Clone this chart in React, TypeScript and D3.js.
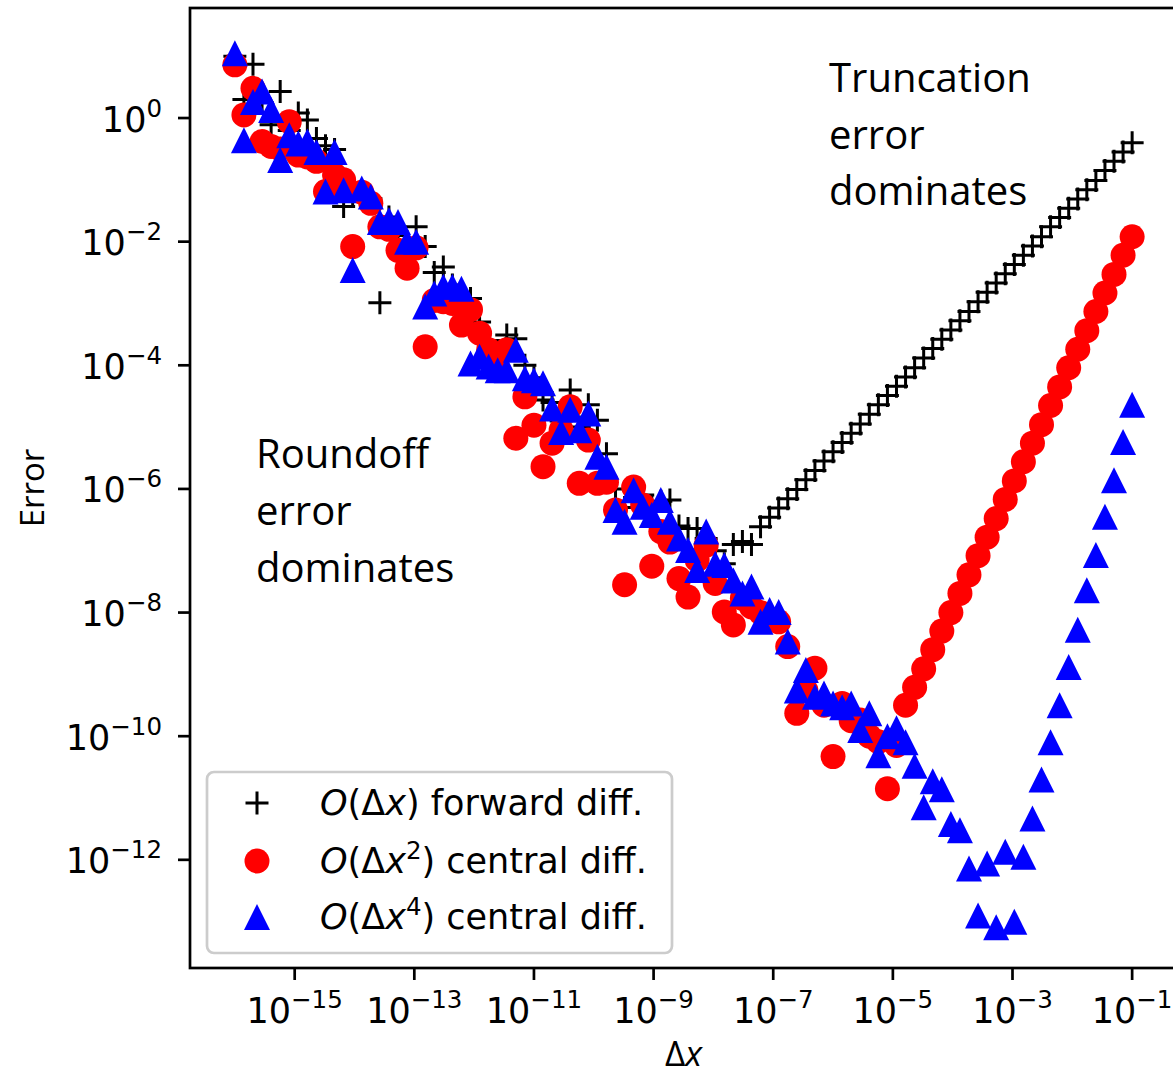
import * as React from 'react';
import {useEffect, useRef} from 'react';
import * as d3 from 'd3';

// step sizes: 100 log-spaced values between 1e-16 and 1e-1 (exponents)
const dxExp = d3.range(100).map((i) => -16 + (i * 15) / 99);

// log10 of the error
const fwdErrExp = [
  1.0, 0.3, 0.87, 0.25, -0.11, 0.43, -0.2, 0.08, -0.03, -0.33,
  -0.45, -0.51, -1.43, -1.25, -1.2, -1.3, -2.99, -1.6, -1.9, -2.0,
  -1.76, -2.08, -2.5, -2.41, -2.7, -3.0, -2.92, -3.3, -3.6, -3.9,
  -3.51, -3.57, -4.0, -4.2, -4.56, -4.6, -4.9, -4.4, -5.0, -4.64,
  -4.89, -5.43, -6.0, -6.3, -6.0, -6.1, -6.3, -6.2, -6.18, -6.6,
  -6.64, -6.64, -6.8, -7.0, -7.21, -6.9, -6.85, -6.9, -6.61, -6.46,
  -6.31, -6.16, -6.01, -5.85, -5.7, -5.55, -5.4, -5.25, -5.1, -4.95,
  -4.79, -4.64, -4.49, -4.34, -4.19, -4.04, -3.88, -3.73, -3.58, -3.43,
  -3.28, -3.13, -2.97, -2.82, -2.67, -2.52, -2.37, -2.22, -2.07, -1.92,
  -1.76, -1.61, -1.46, -1.31, -1.16, -1.01, -0.85, -0.7, -0.55, -0.4,
];

const cen2ErrExp = [
  0.86, 0.05, 0.48, -0.38, -0.46, -0.5, -0.06, -0.6, -0.63, -0.7,
  -1.19, -0.92, -1.0, -2.08, -1.2, -1.38, -1.76, -1.8, -2.14, -2.43,
  -2.1, -3.7, -2.95, -2.97, -3.0, -3.35, -3.1, -3.48, -3.75, -3.85,
  -3.75, -5.18, -4.51, -4.97, -5.64, -5.26, -5.05, -4.67, -5.91, -5.21,
  -5.91, -5.89, -6.34, -7.55, -5.97, -6.26, -7.25, -6.69, -6.86, -7.45,
  -7.75, -7.15, -6.91, -7.53, -7.99, -8.2, -7.77, -7.91, -8.0, -8.1,
  -8.15, -8.55, -9.63, -9.26, -8.9, -9.5, -10.33, -9.47, -9.75, -9.74,
  -10.0, -10.09, -10.85, -10.15, -9.5, -9.21, -8.91, -8.6, -8.3, -8.0,
  -7.69, -7.39, -7.08, -6.78, -6.48, -6.17, -5.87, -5.56, -5.26, -4.96,
  -4.65, -4.35, -4.04, -3.74, -3.44, -3.13, -2.83, -2.53, -2.22, -1.92,
];

const cen4ErrExp = [
  1.05, -0.36, 0.26, 0.43, 0.13, -0.68, -0.28, -0.41, -0.38, -0.55,
  -1.19, -0.55, -1.17, -2.46, -1.14, -1.27, -1.68, -1.65, -1.68, -2.0,
  -2.0, -3.05, -2.84, -2.73, -2.73, -2.76, -3.97, -3.86, -4.02, -4.08,
  -4.08, -3.75, -4.21, -4.24, -4.29, -4.7, -5.08, -4.72, -5.05, -4.78,
  -5.48, -5.64, -6.34, -6.53, -6.02, -6.29, -6.42, -6.18, -6.53, -6.8,
  -6.99, -7.31, -6.69, -7.21, -7.23, -7.48, -7.69, -7.58, -8.15, -7.96,
  -7.99, -8.47, -9.26, -8.93, -9.36, -9.31, -9.47, -9.53, -9.47, -9.9,
  -9.63, -10.31, -10.0, -9.87, -10.1, -10.48, -11.15, -10.73, -10.86, -11.42,
  -11.52, -12.14, -12.9, -12.06, -13.09, -11.87, -13.0, -11.95, -11.33, -10.7,
  -10.1, -9.5, -8.88, -8.28, -7.64, -7.07, -6.45, -5.86, -5.24, -4.64,
];

const xTickExps = [-15, -13, -11, -9, -7, -5, -3, -1];
const yTickExps = [0, -2, -4, -6, -8, -10, -12];

const truncLines = ['Truncation', 'error', 'dominates'];
const roundLines = ['Roundoff', 'error', 'dominates'];

const W = 1173;
const H = 1075;
const margin = {left: 190, top: 8, right: 1177, bottom: 968};

const App = () => {
  const svgRef = useRef(null);

  useEffect(() => {
    const svg = d3.select(svgRef.current);
    svg.selectAll('*').remove();

    const xScale = d3.scaleLog()
      .domain([Math.pow(10, -16.75), Math.pow(10, -0.25)])
      .range([margin.left, margin.right]);
    const yScale = d3.scaleLog()
      .domain([Math.pow(10, 1.78), Math.pow(10, -13.75)])
      .range([margin.top, margin.bottom]);

    svg.append('clipPath').attr('id', 'plotclip')
      .append('rect')
      .attr('x', margin.left).attr('y', margin.top)
      .attr('width', margin.right - margin.left)
      .attr('height', margin.bottom - margin.top);

    const plot = svg.append('g').attr('clip-path', 'url(#plotclip)');

    const toPts = (ys) => ys.map((e, i) => ({x: xScale(Math.pow(10, dxExp[i])), y: yScale(Math.pow(10, e))}));

    const plusSize = 23;
    const circR = 12.5;
    const tri = 26;
    const triPath = `M0,${-tri / 2}L${tri / 2},${tri / 2}L${-tri / 2},${tri / 2}Z`;

    // forward diff (+)
    const fwd = plot.append('g');
    toPts(fwdErrExp).forEach((p) => {
      fwd.append('path')
        .attr('d', `M${p.x - plusSize / 2},${p.y}H${p.x + plusSize / 2}M${p.x},${p.y - plusSize / 2}V${p.y + plusSize / 2}`)
        .attr('stroke', '#000')
        .attr('stroke-width', 3)
        .attr('fill', 'none');
    });

    // central diff O(dx^2)
    plot.append('g').selectAll('circle')
      .data(toPts(cen2ErrExp))
      .enter()
      .append('circle')
      .attr('cx', (d) => d.x)
      .attr('cy', (d) => d.y)
      .attr('r', circR)
      .attr('fill', '#ff0000');

    // central diff O(dx^4)
    plot.append('g').selectAll('path')
      .data(toPts(cen4ErrExp))
      .enter()
      .append('path')
      .attr('transform', (d) => `translate(${d.x},${d.y})`)
      .attr('d', triPath)
      .attr('fill', '#0000ff');

    // annotations
    const ann = svg.append('g')
      .style('font-family', '"Open Sans", sans-serif')
      .style('font-size', '40px')
      .attr('fill', '#000');
    truncLines.forEach((t, i) => {
      ann.append('text').attr('x', 829).attr('y', 92 + i * 56.5).text(t);
    });
    roundLines.forEach((t, i) => {
      ann.append('text').attr('x', 256).attr('y', 468 + i * 57).text(t);
    });

    // spines
    svg.append('rect')
      .attr('x', margin.left).attr('y', margin.top)
      .attr('width', margin.right - margin.left)
      .attr('height', margin.bottom - margin.top)
      .attr('fill', 'none')
      .attr('stroke', '#000')
      .attr('stroke-width', 2.7);

    const tickFont = '"DejaVu Sans", sans-serif';
    const labelFont = '"Open Sans", sans-serif';

    // x ticks
    const xt = svg.append('g');
    xTickExps.forEach((e) => {
      const x = xScale(Math.pow(10, e));
      xt.append('line')
        .attr('x1', x).attr('x2', x)
        .attr('y1', margin.bottom).attr('y2', margin.bottom + 12)
        .attr('stroke', '#000').attr('stroke-width', 2.7);
      const t = xt.append('text')
        .attr('x', x).attr('y', 1023)
        .attr('text-anchor', 'middle')
        .style('font-family', tickFont)
        .style('font-size', '35px');
      t.append('tspan').text('10');
      t.append('tspan').attr('dy', -15).style('font-size', '24.5px').text(`\u2212${-e}`);
    });

    // y ticks
    const yt = svg.append('g');
    yTickExps.forEach((e) => {
      const y = yScale(Math.pow(10, e));
      yt.append('line')
        .attr('x1', margin.left - 12).attr('x2', margin.left)
        .attr('y1', y).attr('y2', y)
        .attr('stroke', '#000').attr('stroke-width', 2.7);
      const t = yt.append('text')
        .attr('x', 162).attr('y', y + 13.5)
        .attr('text-anchor', 'end')
        .style('font-family', tickFont)
        .style('font-size', '35px');
      t.append('tspan').text('10');
      t.append('tspan').attr('dy', -15).style('font-size', '24.5px').text(e === 0 ? '0' : `\u2212${-e}`);
    });

    // axis labels
    const xl = svg.append('text')
      .attr('x', (margin.left + margin.right) / 2).attr('y', 1066)
      .attr('text-anchor', 'middle')
      .style('font-family', labelFont)
      .style('font-size', '35px');
    xl.append('tspan').text('\u0394');
    xl.append('tspan').style('font-style', 'italic').text('x');
    svg.append('text')
      .attr('transform', `translate(44,${(margin.top + margin.bottom) / 2}) rotate(-90)`)
      .attr('text-anchor', 'middle')
      .style('font-family', labelFont)
      .style('font-size', '33px')
      .text('Error');

    // legend
    const lg = svg.append('g');
    lg.append('rect')
      .attr('x', 207).attr('y', 772)
      .attr('width', 465).attr('height', 181)
      .attr('rx', 7)
      .attr('fill', 'rgba(255,255,255,0.8)')
      .attr('stroke', '#cccccc')
      .attr('stroke-width', 2.7);
    const rows = [
      {y: 803, kind: 'plus', pow: null, label: ' forward diff.'},
      {y: 861, kind: 'circle', pow: '2', label: ' central diff.'},
      {y: 917, kind: 'tri', pow: '4', label: ' central diff.'},
    ];
    rows.forEach((r) => {
      const mx = 257;
      if (r.kind === 'plus') {
        lg.append('path')
          .attr('d', `M${mx - plusSize / 2},${r.y}H${mx + plusSize / 2}M${mx},${r.y - plusSize / 2}V${r.y + plusSize / 2}`)
          .attr('stroke', '#000').attr('stroke-width', 3);
      } else if (r.kind === 'circle') {
        lg.append('circle').attr('cx', mx).attr('cy', r.y).attr('r', circR).attr('fill', '#ff0000');
      } else {
        lg.append('path').attr('transform', `translate(${mx},${r.y})`).attr('d', triPath).attr('fill', '#0000ff');
      }
      const t = lg.append('text')
        .attr('x', 320).attr('y', r.y + 12)
        .style('font-family', '"DejaVu Sans", sans-serif')
        .style('font-size', '35px');
      t.append('tspan').style('font-style', 'italic').text('O');
      t.append('tspan').text('(\u0394');
      t.append('tspan').style('font-style', 'italic').text('x');
      if (r.pow) {
        t.append('tspan').attr('dy', -14).style('font-size', '24.5px').text(r.pow);
        t.append('tspan').attr('dy', 14).text(')' + r.label);
      } else {
        t.append('tspan').text(')' + r.label);
      }
    });
  }, []);

  return (
    <svg ref={svgRef} width={W} height={H}
      style={{position: 'absolute', left: 0, top: 0, background: '#fff'}} />
  );
};

export default App;
